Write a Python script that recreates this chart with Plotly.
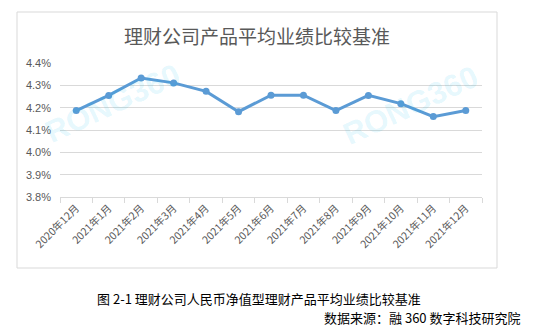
import plotly.graph_objects as go

categories = ["2020年12月", "2021年1月", "2021年2月", "2021年3月", "2021年4月", "2021年5月",
              "2021年6月", "2021年7月", "2021年8月", "2021年9月", "2021年10月", "2021年11月", "2021年12月"]
values = [4.187, 4.255, 4.333, 4.311, 4.273, 4.182, 4.256, 4.256, 4.187, 4.255, 4.218, 4.160, 4.187]
y_ticks = [3.8, 3.9, 4.0, 4.1, 4.2, 4.3, 4.4]
y_tick_labels = ["3.8%", "3.9%", "4.0%", "4.1%", "4.2%", "4.3%", "4.4%"]

title_text = "理财公司产品平均业绩比较基准"
caption_text = "图 2-1 理财公司人民币净值型理财产品平均业绩比较基准"
source_text = "数据来源：融 360 数字科技研究院"
watermark_text = "RONG360"

W, H = 534, 328
L, R, T, B = 60, 52, 63, 131
pw, ph = W - L - R, H - T - B

def px(x):
    return (x - L) / pw

def py(y):
    return (H - B - y) / ph

fig = go.Figure()
fig.add_trace(go.Scatter(
    x=categories, y=values, mode="lines+markers",
    line=dict(color="#5b9bd5", width=3),
    marker=dict(color="#5b9bd5", size=7),
    hoverinfo="skip",
))

annotations = [
    dict(text=title_text, x=px(257), y=py(35), xref="paper", yref="paper",
         showarrow=False, xanchor="center", yanchor="middle",
         font=dict(family="Noto Sans CJK SC", size=19, color="#595959")),
    dict(text=caption_text, x=px(95), y=py(298), xref="paper", yref="paper",
         showarrow=False, xanchor="left", yanchor="middle",
         font=dict(family="Noto Sans CJK SC", size=13, color="#000000")),
    dict(text=source_text, x=px(522), y=py(317), xref="paper", yref="paper",
         showarrow=False, xanchor="right", yanchor="middle",
         font=dict(family="Noto Sans CJK SC", size=13, color="#000000")),
]
for cx, cy in [(112, 103), (410, 105)]:
    annotations.append(dict(
        text="<b>" + watermark_text + "</b>", x=px(cx), y=py(cy), xref="paper", yref="paper",
        showarrow=False, xanchor="center", yanchor="middle", textangle=-25,
        font=dict(family="Liberation Sans", size=31, color="rgba(0,185,235,0.11)")))

fig.update_layout(
    width=W, height=H,
    margin=dict(l=L, r=R, t=T, b=B),
    paper_bgcolor="white", plot_bgcolor="white",
    showlegend=False,
    annotations=annotations,
    shapes=[dict(type="rect", xref="paper", yref="paper",
                 x0=px(17), x1=px(497), y0=py(268), y1=py(12),
                 line=dict(color="#d9d9d9", width=1), layer="below")],
    xaxis=dict(
        type="category", tickangle=-45, showgrid=False, zeroline=False,
        showline=True, linecolor="#d9d9d9", linewidth=1,
        ticks="outside", tickson="boundaries", ticklen=5, tickcolor="#d9d9d9",
        tickfont=dict(family="Noto Sans CJK SC", size=10.5, color="#595959"),
        range=[-0.5, len(categories) - 0.5], fixedrange=True,
    ),
    yaxis=dict(
        range=[3.8, 4.4], tickvals=y_ticks, ticktext=y_tick_labels,
        showgrid=True, gridcolor="#d9d9d9", gridwidth=1, zeroline=False,
        showline=False, ticks="", ticklabelstandoff=8,
        tickfont=dict(family="Liberation Sans", size=11, color="#595959"),
        fixedrange=True,
    ),
)

fig.write_html("out.html")
